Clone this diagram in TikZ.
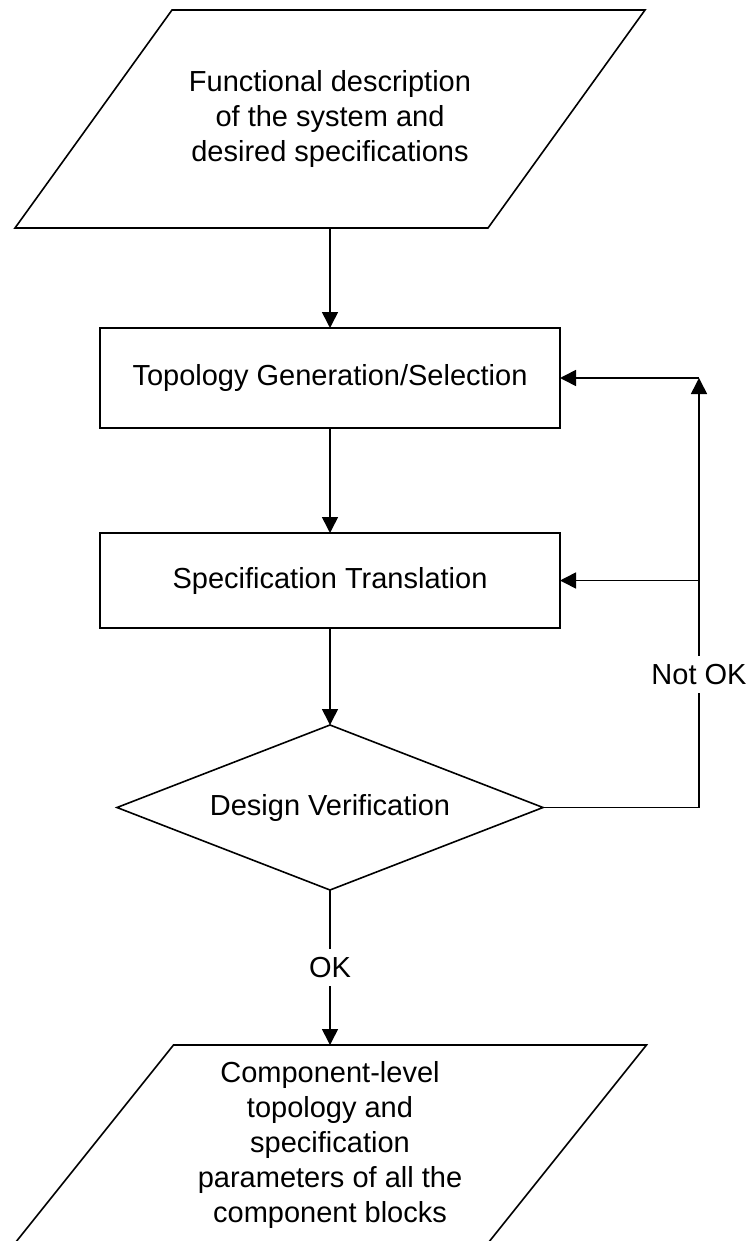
\documentclass[tikz,border=0pt]{standalone}
\usepackage{fontspec}
\setmainfont{Liberation Sans}
\usepackage{tikz}
\usetikzlibrary{arrows.meta,positioning,shapes.geometric}
\newcommand{\flowfont}{\fontsize{29pt}{35pt}\selectfont}
\tikzset{
  proc/.style={
    draw, line width=1.6pt, minimum width=460pt, minimum height=100pt,
    outer sep=0pt, align=center, font=\flowfont
  },
  io/.style={
    outer sep=0pt, inner sep=0pt, align=center, font=\flowfont
  },
  ioframe/.style={draw, line width=1.6pt},
  test/.style={
    draw, diamond, aspect=2.6, line width=1.6pt, minimum width=426pt,
    minimum height=165pt, outer sep=0pt, align=center, font=\flowfont
  },
  arr/.style={-{Triangle[length=16pt,width=16pt]},line width=1.6pt},
  tag/.style={fill=white,inner xsep=2pt,inner ysep=8pt,font=\flowfont}
}
\begin{document}
\begin{tikzpicture}[x=1pt,y=-1pt]
  \useasboundingbox (0,0) rectangle (752,1241);
  \clip (0,0) rectangle (752,1241);
  \node[io,minimum width=630pt,minimum height=218pt] (spec) at (330,119) {Functional description\\of the system and\\desired specifications};
  \node[proc,below=100pt of spec] (topo) {Topology Generation/Selection};
  \node[proc,minimum height=95pt,below=105pt of topo] (trans) {Specification Translation};
  \node[test,below=97pt of trans] (dec) {Design Verification};
  \node[io,minimum width=633pt,minimum height=200pt,below=155pt of dec] (out) {Component-level\\topology and\\specification\\parameters of all the\\component blocks};
  \draw[ioframe] (spec.south west) -- ([xshift=157pt]spec.north west) -- (spec.north east) -- ([xshift=-157pt]spec.south east) -- cycle;
  \draw[ioframe] (out.south west) -- ([xshift=160pt]out.north west) -- (out.north east) -- ([xshift=-160pt]out.south east) -- cycle;
  \coordinate[right=156pt of dec.east] (back);
  \coordinate (backtop) at (back |- topo.east);
  \draw[arr] (spec) -- (topo);
  \draw[arr] (topo) -- (trans);
  \draw[arr] (trans) -- (dec);
  \draw[arr] (dec) -- node[tag]{OK} (out);
  \draw[arr] (dec.east) -- (back) -- node[tag,pos=0.31]{Not OK} (backtop);
  \draw[arr] (backtop) -- (topo.east);
  \draw[arr] (back |- trans.east) -- (trans.east);
\end{tikzpicture}
\end{document}
